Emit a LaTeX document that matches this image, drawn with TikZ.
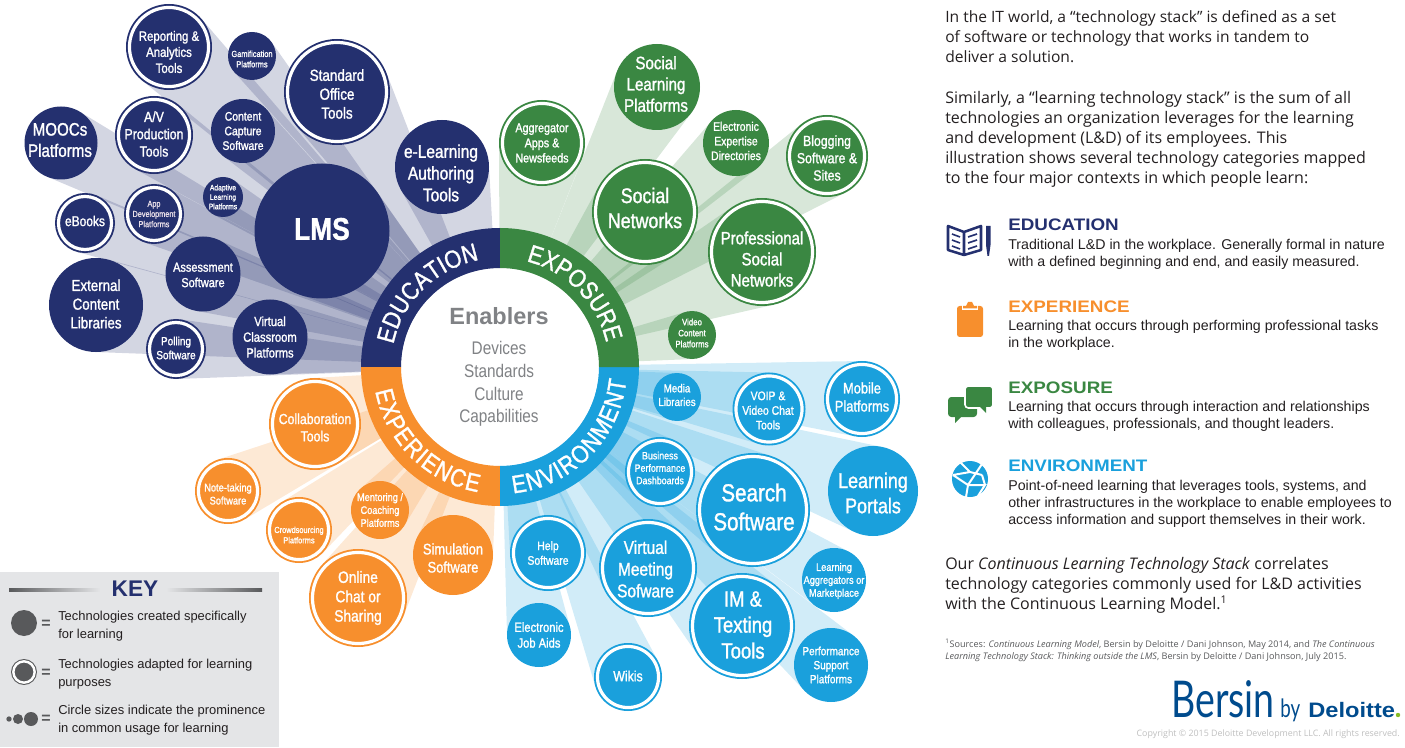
\documentclass[tikz,border=0pt]{standalone}
\usepackage{fontspec}
\usetikzlibrary{calc,backgrounds,decorations.text}
\setmainfont{Liberation Sans}
\newfontfamily\narrowfont{Liberation Sans}[FakeStretch=0.84,FakeBold=1.3]
\newfontfamily\thinnarrow{Liberation Sans}[FakeStretch=0.84]
\newfontfamily\ringfont{Liberation Sans}[FakeStretch=0.86,FakeBold=1.3]
\newfontfamily\bodyfont{Open Sans}
\newfontfamily\headfont{Liberation Sans}[FakeStretch=1.13]
\newfontfamily\logofont{Lato}[FakeStretch=0.74]
\definecolor{navyc}{RGB}{36,48,111}
\definecolor{greenc}{RGB}{58,135,66}
\definecolor{bluec}{RGB}{26,160,220}
\definecolor{orangec}{RGB}{247,143,45}
\definecolor{greyc}{RGB}{128,130,133}
\definecolor{darkc}{RGB}{88,89,91}
\definecolor{keyc}{RGB}{228,229,231}
\definecolor{inkc}{RGB}{35,31,32}
\definecolor{logoc}{RGB}{0,75,141}
\definecolor{dotc}{RGB}{134,188,37}
\definecolor{appc}{RGB}{232,222,232}
\tikzset{
  bubble/.style={circle, inner sep=0pt, outer sep=0pt},
  ringed/.style={bubble, double=white, double distance=2.4pt, line width=1.4pt, outer sep=2.6pt},
  bubtext/.style={text=white, align=center, inner sep=0pt},
  beam/.style={fill=#1, fill opacity=0.2},
  para/.style={anchor=north west, align=left, inner sep=0pt, text=inkc, font=\bodyfont\fontsize{12}{15}\selectfont},
  desc/.style={anchor=north west, align=left, inner sep=0pt, text=inkc, font=\fontsize{10.65}{12.75}\selectfont},
  heading/.style={anchor=west, inner sep=0pt, text=#1, font=\headfont\bfseries\fontsize{12.5}{14}\selectfont},
  keytext/.style={anchor=north west, align=left, inner sep=0pt, text=inkc, font=\fontsize{9.7}{13.2}\selectfont},
  keyeq/.style={inner sep=0pt, text=darkc, font=\bfseries\fontsize{12}{12}\selectfont},
}
% solid bubble: [text offset], colour, name, position, radius, font size, text
\newcommand{\bub}[7][0,0]{
  \pgfmathsetmacro\bubskip{#6*1.18}
  \node[bubble, fill=#2, minimum size=#5*1.5pt] (#3) at (#4) {};
  \node[bubtext, shift={(#1)}, font=\narrowfont\fontsize{#6}{\bubskip}\selectfont] (#3txt) at (#3) {#7};
}
% same, with the white ring
\newcommand{\rbub}[7][0,0]{
  \pgfmathsetmacro\bubskip{#6*1.18}
  \node[ringed, draw=#2, fill=#2, minimum size=#5*1.5pt-5.2pt] (#3) at (#4) {};
  \node[bubtext, shift={(#1)}, font=\narrowfont\fontsize{#6}{\bubskip}\selectfont] (#3txt) at (#3) {#7};
}
\newcommand{\ringtext}[4]{
  \path[decorate, decoration={text along path, text align={fit to path},
    text={|\ringfont\fontsize{18.8}{20}\selectfont\color{white}|#1}}]
    (hub.center) ++(#2:#4) arc (#2:#3:#4);
}
\begin{document}
\begin{tikzpicture}[x=0.75pt,y=0.75pt]
\useasboundingbox (0,0) rectangle (1405,747);

% education
\bub[0,2]{navyc}{lms}{322,516}{67.5}{23.5}{\bfseries LMS}
\rbub[0,-5]{navyc}{reporting}{169,700}{43}{10.2}{Reporting \&\\Analytics\\Tools}
\bub[0,-3]{navyc}{gamif}{252,691}{24}{6.6}{Gamification\\Platforms}
\rbub[0,-2]{navyc}{office}{337,655}{53}{12}{Standard\\Office\\Tools}
\bub[-1,-6]{navyc}{elearn}{442,580}{47}{13.8}{e-Learning\\Authoring\\Tools}
\bub[-1,3]{navyc}{moocs}{61,604}{36.5}{13.5}{MOOCs\\Platforms}
\rbub[0,1]{navyc}{avprod}{154,612}{39}{11}{A/V\\Production\\Tools}
\bub{navyc}{capture}{243,616}{32}{9.3}{Content\\Capture\\Software}
\bub{navyc}{adaptive}{223,550}{20}{6}{Adaptive\\Learning\\Platforms}
\rbub[0,2]{navyc}{ebooks}{85,524}{30}{10.7}{eBooks}
\rbub{navyc}{appdev}{154,533}{30}{6.5}{\textcolor{appc}{App}\\\textcolor{appc}{Development}\\\textcolor{appc}{Platforms}}
\bub[0,-1]{navyc}{assess}{203,473}{37.5}{9.8}{Assessment\\Software}
\bub[0,1]{navyc}{external}{96,442}{47}{11.9}{External\\Content\\Libraries}
\bub{navyc}{virtual}{270,410}{37.5}{10}{Virtual\\Classroom\\Platforms}
\rbub[0,1]{navyc}{polling}{176,398}{30}{8.9}{Polling\\Software}

% exposure
\rbub{greenc}{aggreg}{542,604}{43}{9.6}{Aggregator\\Apps \&\\Newsfeeds}
\bub[-1,3]{greenc}{soclearn}{657,660}{43}{13.5}{Social\\Learning\\Platforms}
\bub[0,2]{greenc}{expert}{736,604}{33}{9.3}{Electronic\\Expertise\\Directories}
\rbub[0,-2]{greenc}{blog}{827,591}{41}{11}{Blogging\\Software \&\\Sites}
\rbub[0,4]{greenc}{socnet}{645,535}{53}{15.9}{Social\\Networks}
\rbub[0,-7]{greenc}{prosoc}{762,495}{54}{13.4}{Professional\\Social\\Networks}
\bub[0,2]{greenc}{video}{692,412}{24}{7}{Video\\Content\\Platforms}

% environment
\rbub[0,2]{bluec}{mobile}{862,348}{38}{11.5}{Mobile\\Platforms}
\rbub[-1,-1.5]{bluec}{voip}{769,338}{36.5}{9.3}{VOIP \&\\Video Chat\\Tools}
\bub[0,2]{bluec}{media}{677,350}{24}{8.7}{Media\\Libraries}
\bub[0,-2]{bluec}{portals}{873,256}{45}{16}{Learning\\Portals}
\rbub[0,4]{bluec}{bizperf}{660,275}{35}{7.9}{Business\\Performance\\Dashboards}
\rbub[1,3]{bluec}{search}{753,237}{57}{18.4}{Search\\Software}
\rbub{bluec}{help}{548,194}{38}{9.3}{Help\\Software}
\rbub[-2.5,-1]{bluec}{meeting}{648,179}{49}{13.8}{Virtual\\Meeting\\Sofware}
\rbub[1,1]{bluec}{imtext}{742,121}{53}{16.5}{IM \&\\Texting\\Tools}
\bub[0,-1]{bluec}{aggmkt}{834,167}{32}{8.2}{Learning\\Aggregators or\\Marketplace}
\bub{bluec}{jobaids}{539,112}{32}{10}{Electronic\\Job Aids}
\rbub[0,1]{bluec}{wikis}{628,70}{34}{11}{Wikis}
\bub{bluec}{perf}{831,82}{37}{8.9}{Performance\\Support\\Platforms}

% experience
\rbub[0,-3.5]{orangec}{collab}{315,323}{46}{11}{Collaboration\\Tools}
\rbub[0,-3]{orangec}{notes}{228,256}{33}{8.3}{Note-taking\\Software}
\rbub[0,-5]{orangec}{crowd}{299,217}{33}{6.6}{Crowdsourcing\\Platforms}
\bub{orangec}{mentor}{380,237}{29}{8.2}{Mentoring /\\Coaching\\Platforms}
\bub[0,-3]{orangec}{simul}{453,192}{40}{11.5}{Simulation\\Software}
\rbub{orangec}{chat}{358,149}{49}{12.3}{Online\\Chat or\\Sharing}

% hub
\node[bubble, fill=white, minimum size=148.5pt] (hub) at (500,380) {};
\foreach \col/\a in {navyc/90, orangec/180, bluec/270, greenc/0}
  \fill[\col] (hub.center) ++(\a:139) arc (\a:\a+90:139) -- ++(\a+90:-40) arc (\a+90:\a:99) -- cycle;
\ringtext{EDUCATION}{168}{101}{109}
\ringtext{EXPOSURE}{76}{13}{109}
\ringtext{EXPERIENCE}{191}{260}{127}
\ringtext{ENVIRONMENT}{276}{354}{127}
\node[inner sep=0pt, text=greyc, font=\bfseries\fontsize{17.6}{20}\selectfont] (enablers) at (499,431) {Enablers};
\node[inner sep=0pt, align=center, text=greyc, font=\thinnarrow\fontsize{13.7}{17}\selectfont] (enablist) at (499,363) {Devices\\Standards\\Culture\\Capabilities};

% beams
\begin{scope}[on background layer]
\foreach \b/\col in {lms/navyc, reporting/navyc, gamif/navyc, office/navyc, elearn/navyc, moocs/navyc, avprod/navyc, capture/navyc, adaptive/navyc, ebooks/navyc, appdev/navyc, assess/navyc, external/navyc, virtual/navyc, polling/navyc,
  aggreg/greenc, soclearn/greenc, expert/greenc, blog/greenc, socnet/greenc, prosoc/greenc, video/greenc,
  mobile/bluec, voip/bluec, media/bluec, portals/bluec, bizperf/bluec, search/bluec, help/bluec, meeting/bluec, imtext/bluec, aggmkt/bluec, jobaids/bluec, wikis/bluec, perf/bluec,
  collab/orangec, notes/orangec, crowd/orangec, mentor/orangec, simul/orangec, chat/orangec}
  \fill[beam=\col] (hub.center) -- (tangent cs:node=\b,point={(hub.center)},solution=1) -- (tangent cs:node=\b,point={(hub.center)},solution=2) -- cycle;
\end{scope}

% key
\fill[keyc] (0,0) rectangle (279,175);
\node[inner sep=0pt, text=navyc, font=\bfseries\fontsize{17}{20}\selectfont] (keyname) at (135,158) {KEY};
\shade[left color=darkc, right color=keyc] (9,156) rectangle (100,159);
\shade[right color=darkc, left color=keyc] (166,156) rectangle (262,159);
\node[bubble, fill=darkc, minimum size=19.5pt] (keysolid) at (24,124) {};
\node[ringed, draw=darkc, fill=darkc, double=white, double distance=1.8pt, line width=0.8pt, minimum size=16pt] (keyring) at (24,75) {};
\node[bubble, fill=darkc, minimum size=4pt] (keysmall) at (9,28) {};
\node[bubble, fill=darkc, minimum size=7.5pt] (keymid) at (18,28) {};
\node[bubble, fill=darkc, minimum size=10.5pt] (keybig) at (31,28) {};
\node[keyeq] (eqa) at (46,123) {=};
\node[keyeq] (eqb) at (46,74) {=};
\node[keyeq] (eqc) at (46,28) {=};
\node[keytext] (keya) at (58,136) {Technologies created specifically\\for learning};
\node[keytext] (keyb) at (58,88) {Technologies adapted for learning\\purposes};
\node[keytext] (keyc) at (58,42) {Circle sizes indicate the prominence\\in common usage for learning};

% right column
\node[para, font=\bodyfont\fontsize{11.7}{15.2}\selectfont] (intro) at (945,737) {In the IT world, a “technology stack” is defined as a set\\of software or technology that works in tandem to\\deliver a solution.};
\node[para] (similar) at (945,656) {Similarly, a “learning technology stack” is the sum of all\\technologies an organization leverages for the learning\\and development (L\&D) of its employees. This\\illustration shows several technology categories mapped\\to the four major contexts in which people learn:};
\node[heading=navyc] (heada) at (1008,522) {EDUCATION};
\node[desc] (desca) at (1008,508) {Traditional L\&D in the workplace. Generally formal in nature\\with a defined beginning and end, and easily measured.};
\node[heading=orangec] (headb) at (1008,440) {EXPERIENCE};
\node[desc] (descb) at (1008,427) {Learning that occurs through performing professional tasks\\in the workplace.};
\node[heading=greenc] (headc) at (1008,359) {EXPOSURE};
\node[desc] (descc) at (1008,346) {Learning that occurs through interaction and relationships\\with colleagues, professionals, and thought leaders.};
\node[heading=bluec] (headd) at (1008,281) {ENVIRONMENT};
\node[desc] (descd) at (1008,267) {Point-of-need learning that leverages tools, systems, and\\other infrastructures in the workplace to enable employees to\\access information and support themselves in their work.};
\node[para] (closing) at (945,190) {Our \textit{Continuous Learning Technology Stack} correlates\\technology categories commonly used for L\&D activities\\with the Continuous Learning Model.\textsuperscript{1}};
\node[para, text=darkc, font=\bodyfont\fontsize{6.83}{9}\selectfont] (sources) at (945,108) {\textsuperscript{1}Sources: \textit{Continuous Learning Model}, Bersin by Deloitte / Dani Johnson, May 2014, and \textit{The Continuous}\\\textit{Learning Technology Stack: Thinking outside the LMS}, Bersin by Deloitte / Dani Johnson, July 2015.};

% logo
\node[anchor=base west, inner sep=0pt, text=logoc, font=\logofont\fontsize{38}{40}\selectfont] (bersin) at (1171,30) {Bersin};
\node[anchor=base west, inner sep=0pt, text=logoc, font=\logofont\fontsize{19}{20}\selectfont] (byword) at (1280,30) {by};
\node[anchor=base west, inner sep=0pt, text=logoc, font=\headfont\bfseries\fontsize{15.7}{18}\selectfont] (deloitte) at (1308,30) {Deloitte};
\fill[dotc] (1398,32) circle (2.2);
\node[anchor=east, inner sep=0pt, text=black!25, font=\bodyfont\fontsize{6.65}{9}\selectfont] (copyright) at (1400,13) {Copyright © 2015 Deloitte Development LLC. All rights reserved.};

% education icon
\draw[navyc, line width=1.9pt, line join=round] (948,521) -- (964,515) -- (981,521) -- (981,497) -- (964,492) -- (948,497) -- cycle (964,515) -- (964,492);
\foreach \v in {0,6,12} {
  \draw[navyc, line width=1.2pt] (952,513-\v) -- (960,510-\v);
  \draw[navyc, line width=1.2pt] (968,510-\v) -- (977,513-\v);
}
\fill[navyc] (986,521) rectangle (990.5,502) -- (989,491) -- (987.5,491) -- (986,502) -- cycle;
% experience icon
\fill[orangec, rounded corners=2pt] (957,441) rectangle (983,410);
\fill[white] (962,443) rectangle (978,437);
\fill[orangec] (963,438.5) rectangle (977,441) (966,441) -- (968,445) -- (972,445) -- (974,441) -- cycle;
% exposure icon
\fill[greenc, rounded corners=2.5pt] (948,350) rectangle (977,330);
\fill[greenc] (955,332) -- (955,324) -- (963,332) -- cycle;
\fill[greenc, draw=white, line width=1.2pt, rounded corners=2.5pt] (965,361) rectangle (993,339);
\fill[greenc] (980,340) -- (986,334) -- (986,340) -- cycle;
% environment icon
\fill[bluec] (970,268) circle (18);
\draw[white, line width=1.5pt] (953,272) -- (968,262) -- (982,283) (968,262) -- (966,250) (968,262) -- (985,262) -- (978,251) (960,285) -- (970,275) -- (982,272) (953,272) -- (970,275) (985,262) -- (982,272);
\end{tikzpicture}
\end{document}
